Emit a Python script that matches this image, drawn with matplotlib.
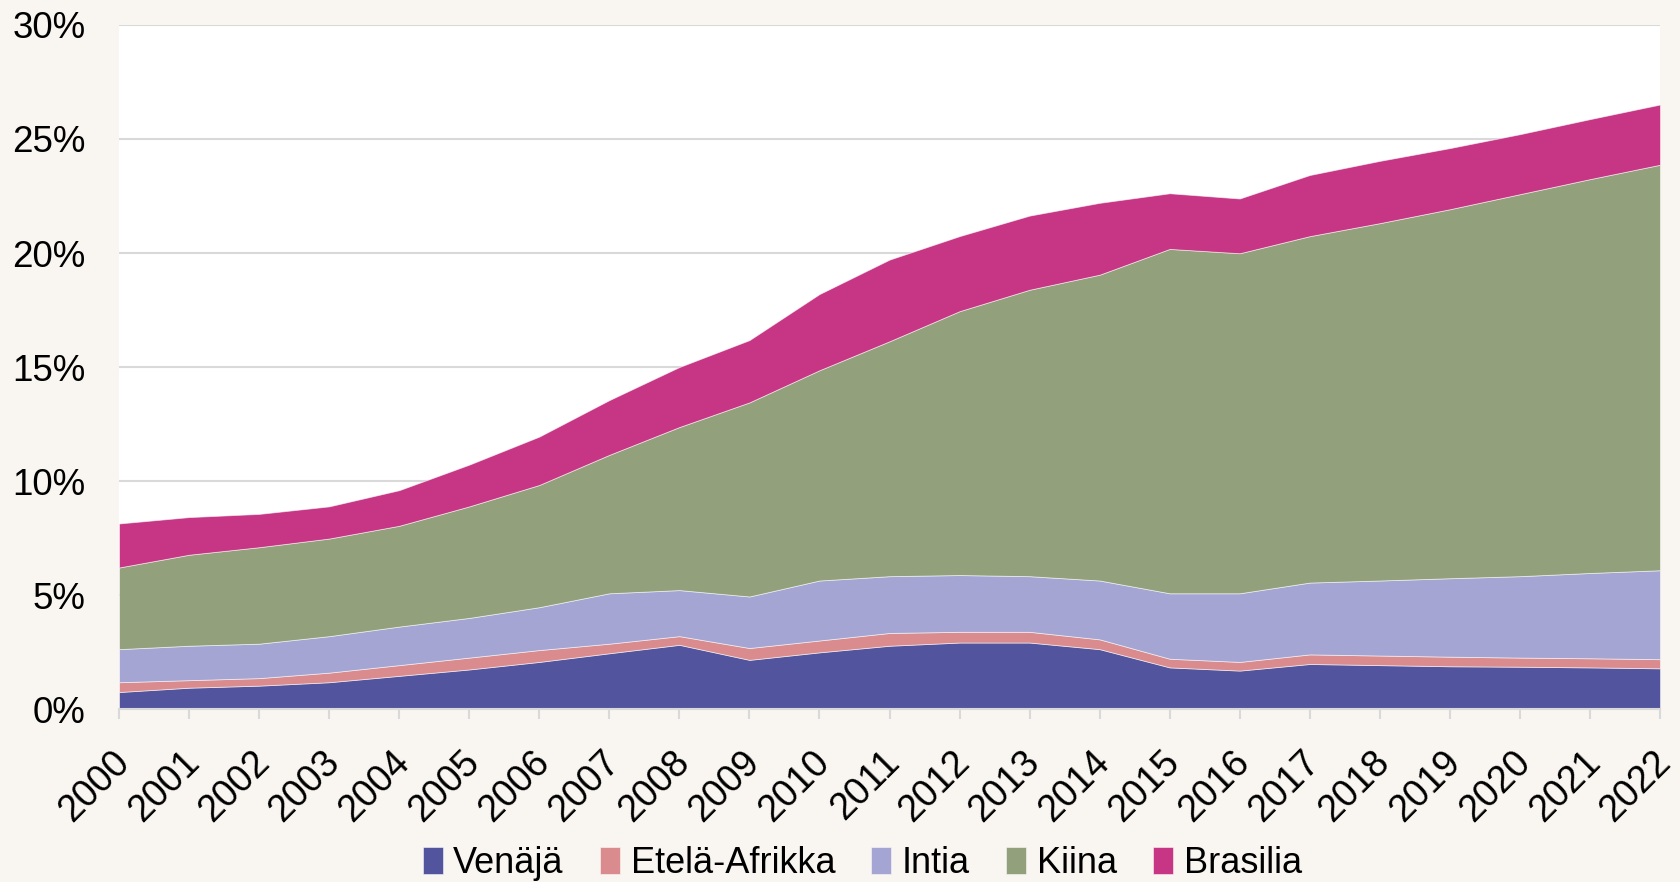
import matplotlib
matplotlib.use("Agg")
import matplotlib.pyplot as plt
import matplotlib.transforms as mtransforms
import numpy as np
from matplotlib.ticker import FuncFormatter

years = list(range(2000, 2023))
venaja = [0.75, 0.94, 1.03, 1.18, 1.46, 1.74, 2.07, 2.45, 2.82, 2.16, 2.49, 2.78, 2.92, 2.92, 2.63, 1.83, 1.69, 1.98, 1.93, 1.88, 1.86, 1.83, 1.79]
etela_afrikka = [0.43, 0.33, 0.33, 0.42, 0.47, 0.52, 0.52, 0.42, 0.38, 0.52, 0.52, 0.56, 0.47, 0.47, 0.43, 0.38, 0.38, 0.42, 0.42, 0.42, 0.40, 0.40, 0.40]
intia = [1.45, 1.51, 1.51, 1.60, 1.69, 1.74, 1.88, 2.21, 2.02, 2.26, 2.63, 2.49, 2.49, 2.44, 2.58, 2.87, 3.01, 3.15, 3.29, 3.44, 3.57, 3.74, 3.90]
kiina = [3.58, 3.99, 4.23, 4.28, 4.42, 4.89, 5.36, 6.07, 7.15, 8.51, 9.22, 10.30, 11.57, 12.56, 13.41, 15.10, 14.91, 15.19, 15.67, 16.18, 16.75, 17.27, 17.78]
brasilia = [1.93, 1.65, 1.46, 1.41, 1.56, 1.83, 2.12, 2.40, 2.63, 2.73, 3.34, 3.58, 3.29, 3.25, 3.15, 2.44, 2.40, 2.68, 2.73, 2.68, 2.63, 2.63, 2.64]

labels = ["Venäjä", "Etelä-Afrikka", "Intia", "Kiina", "Brasilia"]
colors = ["#52559d", "#d98b8e", "#a4a5d2", "#92a07c", "#c73585"]
yticks = [0, 5, 10, 15, 20, 25, 30]

plt.rcParams['font.family'] = ['Liberation Sans', 'DejaVu Sans']

bg = "#f9f5f0"
fig = plt.figure(figsize=(16.81, 8.82), dpi=100, facecolor=bg)
ax = fig.add_axes([0.0708, 0.196, 0.9167, 0.7757])
ax.set_facecolor("white")

ax.stackplot(years, venaja, etela_afrikka, intia, kiina, brasilia,
             labels=labels, colors=colors, edgecolor=(1, 1, 1, 0.6), linewidth=0.6, zorder=2)

ax.set_xlim(years[0], years[-1])
ax.set_ylim(0, 30)
ax.set_yticks(yticks)
ax.yaxis.set_major_formatter(FuncFormatter(lambda v, p: f"{int(v)}%"))
ax.grid(axis='y', color="#d9d9d9", linewidth=1.5, zorder=1)
ax.set_axisbelow(True)
ax.set_xticks(years)
ax.set_xticklabels([str(y) for y in years], rotation=45, ha='right', rotation_mode='anchor')

for s in ['top', 'right', 'left']:
    ax.spines[s].set_visible(False)
ax.spines['bottom'].set_color("#d9d9d9")
ax.spines['bottom'].set_linewidth(1.5)

ax.tick_params(axis='y', length=0, pad=24, labelsize=26.5, colors='black')
ax.tick_params(axis='x', length=7, width=1.5, color="#d9d9d9", pad=9, labelsize=27, labelcolor='black')

offset = mtransforms.ScaledTranslation(-8 / 100, -13 / 100, fig.dpi_scale_trans)
for lab in ax.get_xticklabels():
    lab.set_transform(lab.get_transform() + offset)

handles, lbls = ax.get_legend_handles_labels()
leg = fig.legend(handles, lbls, loc='center', bbox_to_anchor=(0.513, 0.021), ncol=5,
                 frameon=False, fontsize=26, handlelength=0.55, handleheight=0.75,
                 handletextpad=0.3, columnspacing=1.0, borderaxespad=0)

fig.savefig("out.png", dpi=100, facecolor=bg)
